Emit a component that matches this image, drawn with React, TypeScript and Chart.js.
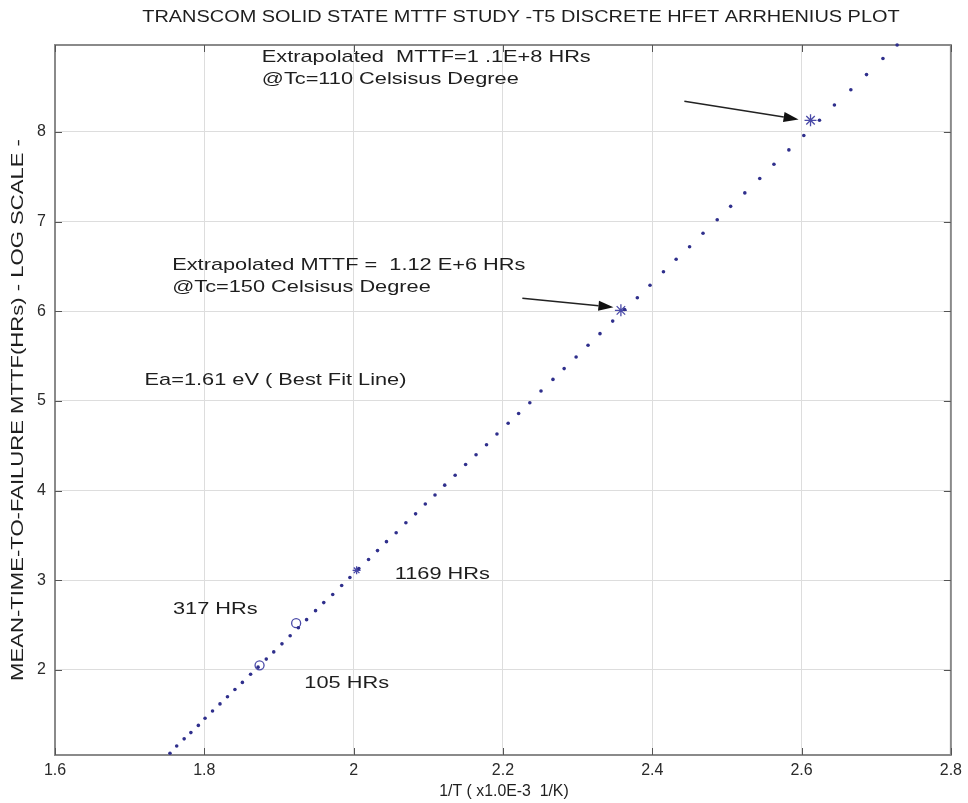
import React, { useEffect, useRef } from "react";
import { Chart, registerables } from "chart.js";

Chart.register(...registerables);

// Best-fit line dots (1/T in 1E-3 1/K, log10 MTTF in hours)
const fitX = [
  2.728, 2.709, 2.687, 2.666, 2.644, 2.624, 2.603, 2.583, 2.563, 2.544,
  2.524, 2.505, 2.487, 2.468, 2.45, 2.432, 2.415, 2.397, 2.38, 2.363,
  2.347, 2.33, 2.314, 2.298, 2.282, 2.267, 2.251, 2.236, 2.221, 2.207,
  2.192, 2.178, 2.164, 2.15, 2.136, 2.122, 2.109, 2.096, 2.083, 2.07,
  2.057, 2.044, 2.032, 2.02, 2.007, 1.995, 1.984, 1.972, 1.96, 1.949,
  1.937, 1.926, 1.915, 1.904, 1.893, 1.883, 1.872, 1.862, 1.851, 1.841,
  1.831, 1.821, 1.811, 1.801, 1.792, 1.782, 1.773, 1.763, 1.754,
];
const fitY = [
  8.97, 8.82, 8.64, 8.47, 8.3, 8.13, 7.96, 7.8, 7.64, 7.48,
  7.32, 7.17, 7.02, 6.87, 6.72, 6.58, 6.44, 6.29, 6.15, 6.02,
  5.89, 5.75, 5.62, 5.49, 5.36, 5.24, 5.11, 4.98, 4.86, 4.75,
  4.63, 4.51, 4.4, 4.29, 4.17, 4.06, 3.95, 3.85, 3.74, 3.64,
  3.53, 3.43, 3.33, 3.23, 3.13, 3.03, 2.94, 2.84, 2.75, 2.66,
  2.56, 2.47, 2.38, 2.29, 2.2, 2.12, 2.03, 1.95, 1.86, 1.78,
  1.7, 1.62, 1.54, 1.46, 1.38, 1.3, 1.23, 1.15, 1.07,
];

// Measured / extrapolated points
const markX = [1.874, 1.923, 2.004, 2.358, 2.612];
const markY = [2.05, 2.52, 3.11, 6.01, 8.13];
const markShape = ["circle", "circle", "star", "star", "star"];

const xTicks = [1.6, 1.8, 2, 2.2, 2.4, 2.6, 2.8];
const yTicks = [2, 3, 4, 5, 6, 7, 8];

const titleText = "TRANSCOM SOLID STATE MTTF STUDY -T5 DISCRETE HFET ARRHENIUS PLOT";
const xLabelText = "1/T ( x1.0E-3  1/K)";
const yLabelText = "MEAN-TIME-TO-FAILURE MTTF(HRs) - LOG SCALE -";

const noteTexts = [
  "Extrapolated  MTTF=1 .1E+8 HRs",
  "@Tc=110 Celsisus Degree",
  "Extrapolated MTTF =  1.12 E+6 HRs",
  "@Tc=150 Celsisus Degree",
  "Ea=1.61 eV ( Best Fit Line)",
  "1169 HRs",
  "317 HRs",
  "105 HRs",
];
// anchor (left, middle) of each note in data coordinates
const noteX = [1.877, 1.877, 1.757, 1.757, 1.72, 2.055, 1.758, 1.934];
const noteY = [8.833, 8.588, 6.513, 6.267, 5.23, 3.06, 2.676, 1.851];

// arrows: from (x0,y0) to (x1,y1) in data coordinates
const arrowX0 = [2.443, 2.226];
const arrowY0 = [8.342, 6.146];
const arrowX1 = [2.596, 2.348];
const arrowY1 = [8.14, 6.046];

const FONT = '"Liberation Sans", Arial, Helvetica, sans-serif';

function drawText(
  ctx: CanvasRenderingContext2D,
  s: string,
  x: number,
  y: number,
  size: number,
  sx: number,
  align: CanvasTextAlign,
  rot = 0
) {
  ctx.save();
  ctx.translate(x, y);
  if (rot) ctx.rotate(rot);
  ctx.scale(sx, 1);
  ctx.font = `${size}px ${FONT}`;
  ctx.textAlign = align;
  ctx.textBaseline = "middle";
  ctx.fillStyle = "#1e1e1e";
  ctx.fillText(s, 0, 0);
  ctx.restore();
}

const overlay = {
  id: "overlay",
  beforeDatasetsDraw(chart: any) {
    const ctx: CanvasRenderingContext2D = chart.ctx;
    const a = chart.chartArea;
    const xs = chart.scales.x;
    const ys = chart.scales.y;

    // axes box
    ctx.save();
    ctx.strokeStyle = "#8a8a8a";
    ctx.lineWidth = 2;
    ctx.strokeRect(a.left, a.top, a.right - a.left, a.bottom - a.top);
    // inward ticks
    ctx.strokeStyle = "#555";
    ctx.lineWidth = 1;
    ctx.beginPath();
    for (const v of xTicks) {
      const px = Math.round(xs.getPixelForValue(v)) + 0.5;
      ctx.moveTo(px, a.top);
      ctx.lineTo(px, a.top + 7);
      ctx.moveTo(px, a.bottom);
      ctx.lineTo(px, a.bottom - 7);
    }
    for (const v of yTicks) {
      const py = Math.round(ys.getPixelForValue(v)) + 0.5;
      ctx.moveTo(a.left, py);
      ctx.lineTo(a.left + 7, py);
      ctx.moveTo(a.right, py);
      ctx.lineTo(a.right - 7, py);
    }
    ctx.stroke();
    ctx.restore();
  },
  afterDraw(chart: any) {
    const ctx: CanvasRenderingContext2D = chart.ctx;
    const a = chart.chartArea;
    const xs = chart.scales.x;
    const ys = chart.scales.y;

    // title & axis labels
    drawText(ctx, titleText, (a.left + a.right) / 2 + 18, 18, 16, 1.245, "center");
    drawText(ctx, xLabelText, 504, 792, 16, 0.99, "center");
    drawText(ctx, yLabelText, 19, (a.top + a.bottom) / 2 + 10, 16, 1.38, "center", -Math.PI / 2);

    // notes
    for (let i = 0; i < noteTexts.length; i++) {
      drawText(
        ctx,
        noteTexts[i],
        xs.getPixelForValue(noteX[i]),
        ys.getPixelForValue(noteY[i]),
        17,
        1.28,
        "left"
      );
    }

    // arrows
    ctx.save();
    ctx.strokeStyle = "#222";
    ctx.fillStyle = "#111";
    ctx.lineWidth = 1.5;
    for (let i = 0; i < arrowX0.length; i++) {
      const x0 = xs.getPixelForValue(arrowX0[i]);
      const y0 = ys.getPixelForValue(arrowY0[i]);
      const x1 = xs.getPixelForValue(arrowX1[i]);
      const y1 = ys.getPixelForValue(arrowY1[i]);
      const ang = Math.atan2(y1 - y0, x1 - x0);
      const L = 15;
      const W = 5;
      const bx = x1 - L * Math.cos(ang);
      const by = y1 - L * Math.sin(ang);
      ctx.beginPath();
      ctx.moveTo(x0, y0);
      ctx.lineTo(bx, by);
      ctx.stroke();
      ctx.beginPath();
      ctx.moveTo(x1, y1);
      ctx.lineTo(bx + W * Math.sin(ang), by - W * Math.cos(ang));
      ctx.lineTo(bx - W * Math.sin(ang), by + W * Math.cos(ang));
      ctx.closePath();
      ctx.fill();
    }
    ctx.restore();
  },
};

export default function App() {
  const ref = useRef<HTMLCanvasElement | null>(null);

  useEffect(() => {
    if (!ref.current) return;
    const chart = new Chart(ref.current, {
      type: "scatter",
      data: {
        datasets: [
          {
            label: "fit",
            data: fitX.map((x, i) => ({ x, y: fitY[i] })),
            pointRadius: 1.8,
            pointBackgroundColor: "#2f2f8c",
            pointBorderColor: "#2f2f8c",
            pointBorderWidth: 0,
            showLine: false,
            clip: 4,
          },
          {
            label: "points",
            data: markX.map((x, i) => ({ x, y: markY[i] })),
            pointStyle: markShape as any,
            pointRadius: markShape.map((s, i) => (s === "circle" ? 4.5 : i === 2 ? 4 : 6)),
            pointBackgroundColor: "rgba(0,0,0,0)",
            pointBorderColor: "#4a4aa8",
            pointBorderWidth: 1.3,
            showLine: false,
          },
        ],
      },
      options: {
        responsive: false,
        animation: false,
        layout: { padding: { left: 0, right: 16, top: 45, bottom: 0 } },
        plugins: {
          legend: { display: false },
          tooltip: { enabled: false },
          title: { display: false },
        },
        scales: {
          x: {
            type: "linear",
            min: 1.6,
            max: 2.8,
            afterBuildTicks: (s: any) => {
              s.ticks = xTicks.map((v) => ({ value: v }));
            },
            afterFit: (s: any) => {
              s.height = 48;
            },
            ticks: {
              padding: 6,
              color: "#2a2a2a",
              font: { family: FONT, size: 16 },
              callback: (v: any) => String(v),
            },
            grid: { color: "#dddddd", lineWidth: 1, drawTicks: false },
            border: { display: false },
          },
          y: {
            type: "linear",
            min: 1.05,
            max: 8.97,
            afterBuildTicks: (s: any) => {
              s.ticks = yTicks.map((v) => ({ value: v }));
            },
            afterFit: (s: any) => {
              s.width = 55;
            },
            ticks: {
              padding: 9,
              color: "#2a2a2a",
              font: { family: FONT, size: 16 },
              callback: (v: any) => String(v),
            },
            grid: { color: "#dddddd", lineWidth: 1, drawTicks: false },
            border: { display: false },
          },
        },
      },
      plugins: [overlay],
    });
    return () => chart.destroy();
  }, []);

  return (
    <div style={{ position: "absolute", left: 0, top: 0, width: 968, height: 803, background: "#fff" }}>
      <canvas ref={ref} width={968} height={803} style={{ display: "block" }} />
    </div>
  );
}
